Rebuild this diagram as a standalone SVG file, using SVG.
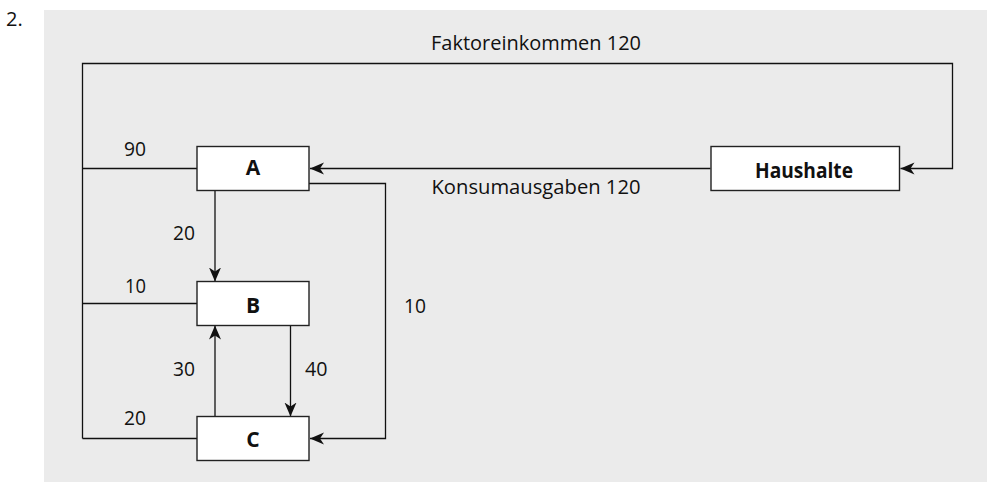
<svg xmlns="http://www.w3.org/2000/svg" width="987" height="482" viewBox="0 0 987 482">
<style>
text{font-family:"Open Sans","Noto Sans","Liberation Sans",sans-serif;font-size:20px;fill:#111}
.node rect{fill:#fff;stroke:#222;stroke-width:1.4}
.node text{font-weight:bold;text-anchor:middle;font-size:21px}
.conn path{fill:none;stroke:#111;stroke-width:1.3}
</style>
<defs>
<marker id="ah" markerWidth="15" markerHeight="13" refX="14" refY="6.5" orient="auto" markerUnits="userSpaceOnUse">
<path d="M0,0.5 L14,6.5 L0,12.5 L4,6.5 Z" fill="#111"/>
</marker>
</defs>
<rect x="44" y="10" width="943" height="472" fill="#ebebeb"/>
<text x="6" y="26" font-size="21">2.</text>
<g class="conn" id="connectors">
<path d="M82.5 438.5 V63.5 H952.5 V168.5 H900.5" marker-end="url(#ah)"/>
<path d="M197 168.5 H82.5"/>
<path d="M197 303.5 H82.5"/>
<path d="M197 438.5 H82.5"/>
<path d="M710.5 168.5 H310" marker-end="url(#ah)"/>
<path d="M309 183.5 H385.5 V438.5 H310" marker-end="url(#ah)"/>
<path d="M215 190.5 V281.5" marker-end="url(#ah)"/>
<path d="M215 416.5 V325.5" marker-end="url(#ah)"/>
<path d="M290.5 325.5 V416.5" marker-end="url(#ah)"/>
</g>
<g id="labels">
<text x="431" y="49.5" textLength="210" lengthAdjust="spacingAndGlyphs">Faktoreinkommen 120</text>
<text x="431.5" y="193.5" textLength="209" lengthAdjust="spacingAndGlyphs">Konsumausgaben 120</text>
<text x="124" y="156" textLength="22" lengthAdjust="spacingAndGlyphs">90</text>
<text x="125" y="292.5" textLength="21" lengthAdjust="spacingAndGlyphs">10</text>
<text x="124" y="425" textLength="22" lengthAdjust="spacingAndGlyphs">20</text>
<text x="173" y="239.5" textLength="22" lengthAdjust="spacingAndGlyphs">20</text>
<text x="173" y="376" textLength="22" lengthAdjust="spacingAndGlyphs">30</text>
<text x="305" y="376" textLength="22.5" lengthAdjust="spacingAndGlyphs">40</text>
<text x="404" y="312.5" textLength="22" lengthAdjust="spacingAndGlyphs">10</text>
</g>
<g class="node" id="node-A"><rect x="197" y="146.5" width="112" height="44"/><text x="253" y="174.5">A</text></g>
<g class="node" id="node-B"><rect x="197" y="281.5" width="112" height="44"/><text x="253" y="312.5">B</text></g>
<g class="node" id="node-C"><rect x="197" y="416.5" width="112" height="44"/><text x="253" y="446.5">C</text></g>
<g class="node" id="node-Haushalte"><rect x="711" y="146.5" width="188.5" height="44"/><text x="804" y="177.5" textLength="98" lengthAdjust="spacingAndGlyphs">Haushalte</text></g>
</svg>
